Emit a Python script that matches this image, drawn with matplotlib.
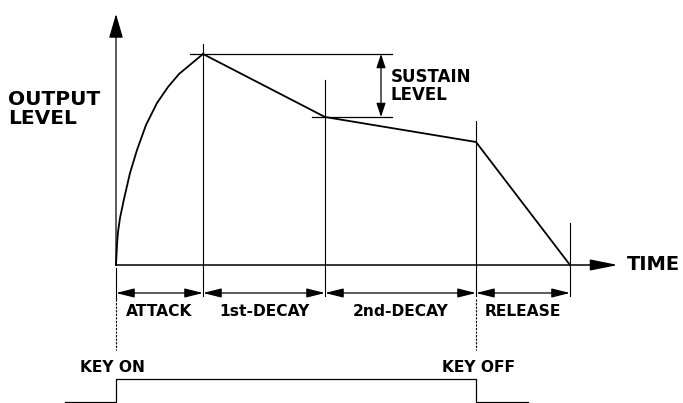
import matplotlib
matplotlib.use("Agg")
import matplotlib.pyplot as plt
from matplotlib.patches import ArrowStyle

# ---- data (time units / level units) ----
phase_names = ["ATTACK", "1st-DECAY", "2nd-DECAY", "RELEASE"]
phase_bounds = [0, 87, 209, 360, 454]          # key on, peak, sustain point, key off, end
attack_t = [0, 1, 2, 4, 8, 14, 21, 30, 41, 52, 63, 75, 87]
attack_L = [0, 20, 33, 47, 66, 92, 115, 140, 162, 178, 191, 201, 211]
env_t = [87, 209, 360, 454]
env_L = [211, 148, 123, 0]
peak_level = 211
sustain_level = 148
gate_t = [-51, 0, 0, 360, 360, 412]
gate_v = [0, 0, 1, 1, 0, 0]
key_labels = ["KEY ON", "KEY OFF"]
key_times = [0, 360]

FONT = "DejaVu Sans"
fig = plt.figure(figsize=(6.83, 4.03), dpi=100)
ax = fig.add_axes([0, 0, 1, 1])
ax.set_xlim(-116, 567)
ax.set_ylim(-138, 265)
ax.axis("off")

k = "black"
# envelope
ax.plot(attack_t, attack_L, color=k, lw=1.3, solid_joinstyle="round")
ax.plot(env_t, env_L, color=k, lw=1.3, solid_joinstyle="miter")

# vertical axis with arrow
ax.annotate("", xy=(0, 251), xytext=(0, 0),
            arrowprops=dict(arrowstyle=ArrowStyle("-|>", head_length=1.0, head_width=0.29),
                            mutation_scale=15, color=k, lw=0.9, shrinkA=0, shrinkB=0))
# time axis with arrow
ax.annotate("", xy=(502, 0), xytext=(0, 0),
            arrowprops=dict(arrowstyle=ArrowStyle("-|>", head_length=1.0, head_width=0.2),
                            mutation_scale=17, color=k, lw=1.1, shrinkA=0, shrinkB=0))
ax.text(511, 0, "TIME", fontsize=14, fontweight="bold", family=FONT, va="center", ha="left")

# axis label
ax.text(-108, 156, "OUTPUT\nLEVEL", fontsize=14.5, fontweight="bold", family=FONT,
        va="center", ha="left", linespacing=1.05)

# horizontal reference lines for sustain level
ax.plot([74, 276], [peak_level, peak_level], color=k, lw=0.9)
ax.plot([196, 276], [sustain_level, sustain_level], color=k, lw=0.9)
ax.annotate("", xy=(265, peak_level), xytext=(265, sustain_level),
            arrowprops=dict(arrowstyle=ArrowStyle("<|-|>", head_length=1.2, head_width=0.4),
                            mutation_scale=7, color=k, lw=0.9, shrinkA=0, shrinkB=0))
ax.text(275, 179, "SUSTAIN\nLEVEL", fontsize=12, fontweight="bold", family=FONT,
        va="center", ha="left", linespacing=0.95)

# vertical boundary lines
dim_y = -28
tops = [None, 221, 185, 144, 42]
for t, top in zip(phase_bounds, tops):
    if top is not None:
        ax.plot([t, t], [top, dim_y - 3], color=k, lw=0.8)
    else:
        ax.plot([t, t], [-3, dim_y - 6], color=k, lw=0.8)

# dashed extensions to key on / key off
for t in key_times:
    ax.plot([t, t], [dim_y - 6, -85], color=k, lw=0.8, ls=(0, (2.0, 1.2)))

# dimension arrows and phase labels
for i, name in enumerate(phase_names):
    a, b = phase_bounds[i], phase_bounds[i + 1]
    ax.annotate("", xy=(b, dim_y), xytext=(a, dim_y),
                arrowprops=dict(arrowstyle=ArrowStyle("<|-|>", head_length=1.4, head_width=0.35),
                                mutation_scale=8, color=k, lw=0.9, shrinkA=0, shrinkB=0))
    ax.text((a + b) / 2, -46, name, fontsize=11.2, fontweight="bold", family=FONT,
            ha="center", va="center")

# gate signal
gate_low, gate_high = -137, -114
gate_y = [gate_low + v * (gate_high - gate_low) for v in gate_v]
ax.plot(gate_t, gate_y, color=k, lw=0.9)
for lab, t in zip(key_labels, key_times):
    ax.text(t - 4 if t == 0 else t + 3, -103, lab, fontsize=11.2, fontweight="bold",
            family=FONT, ha="center", va="center")

fig.savefig("out.png", dpi=100)
